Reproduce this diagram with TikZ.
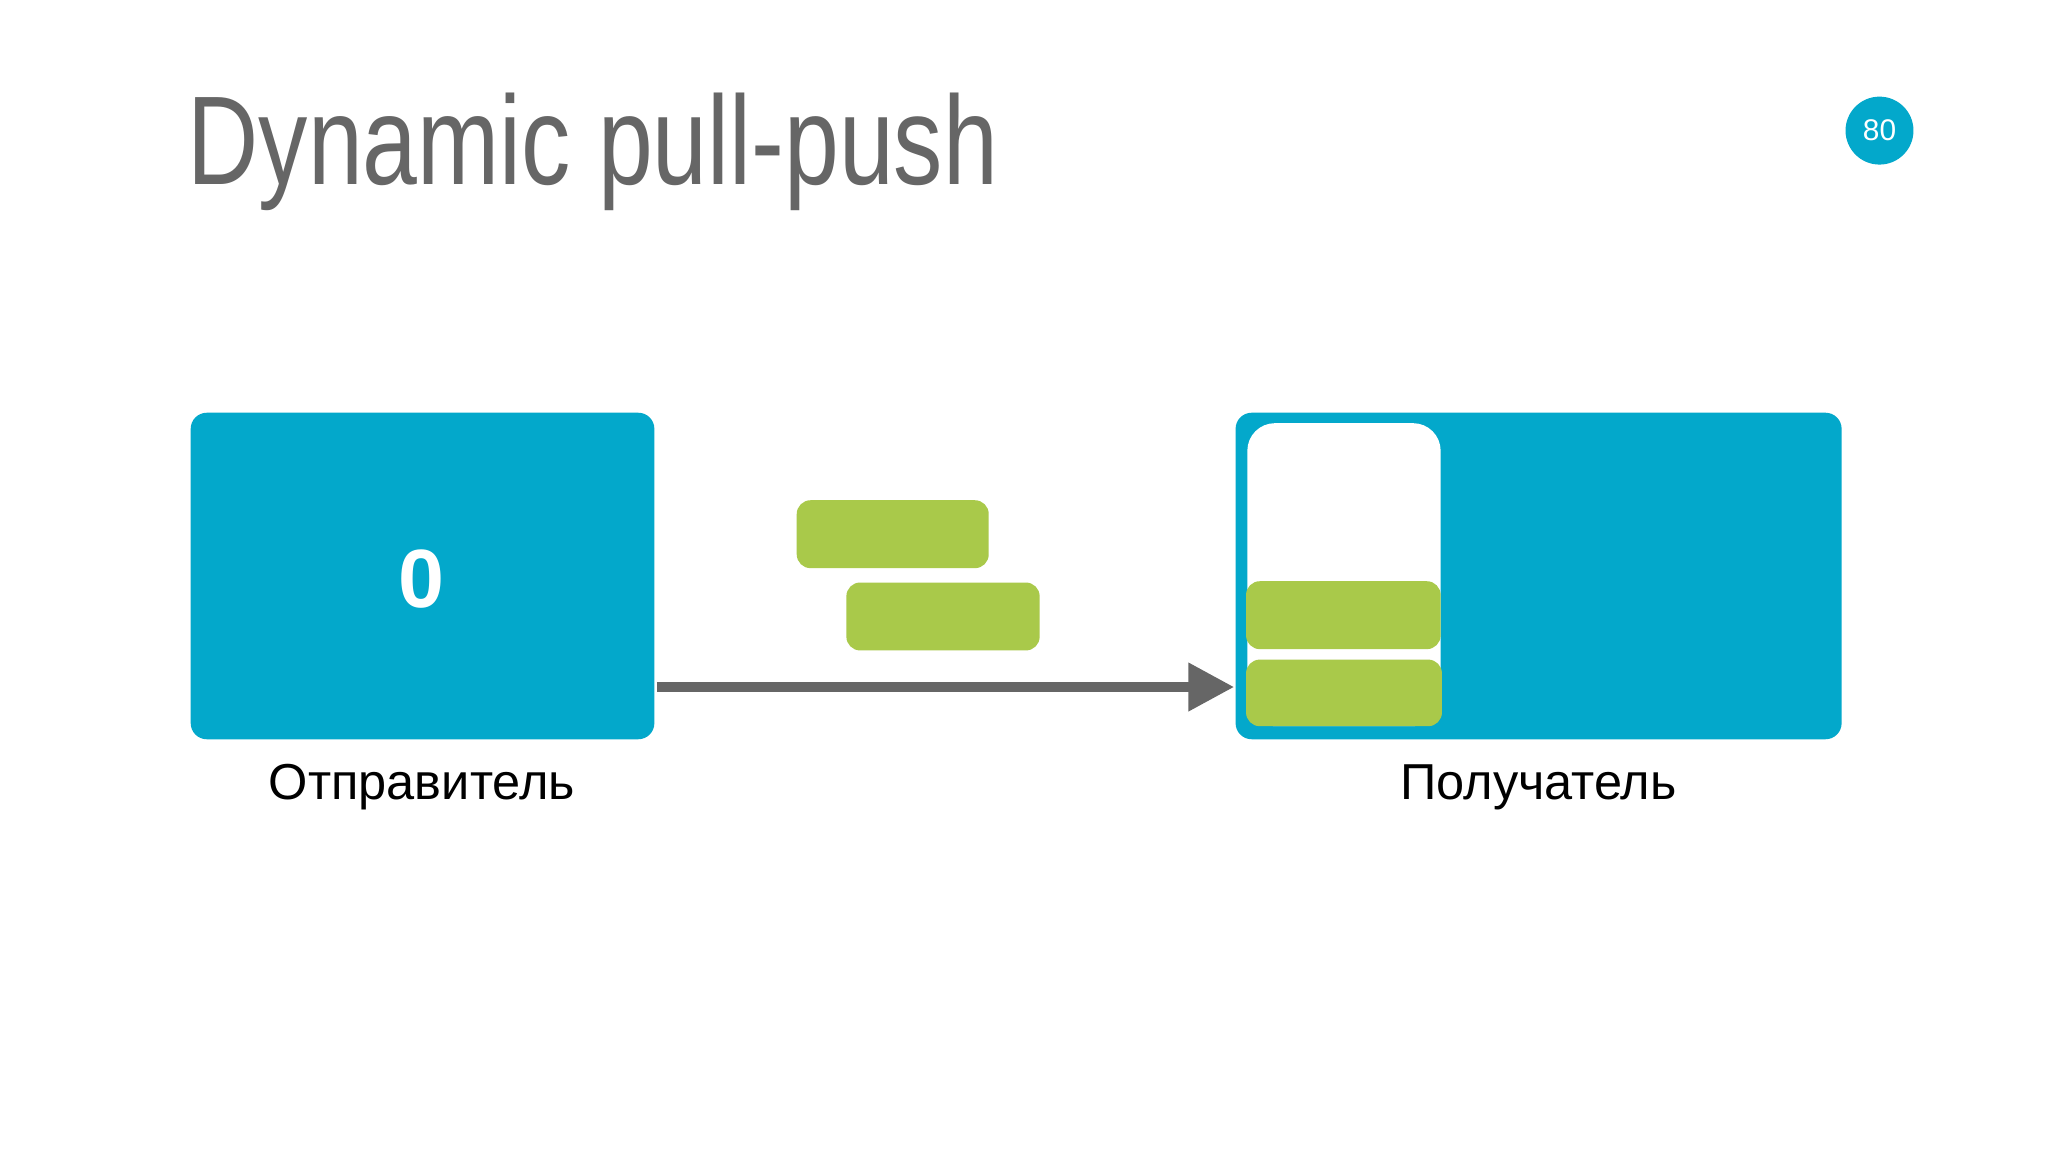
\documentclass[tikz,border=0pt]{standalone}
\usepackage{fontspec}
\setmainfont{Liberation Sans}
\newfontfamily\narrowfont[FakeStretch=0.78]{Liberation Sans}
\usetikzlibrary{arrows.meta}
\definecolor{cyanb}{HTML}{03A8CB}
\definecolor{greenb}{HTML}{A9C94A}
\definecolor{grayt}{HTML}{666666}
\tikzset{
  bigbox/.style={fill=cyanb, rounded corners=3.5pt, inner sep=0pt},
  msg/.style={fill=greenb, rounded corners=3pt},
  lbl/.style={font=\fontsize{11}{13}\selectfont, text=black},
}
\begin{document}
\begin{tikzpicture}[x=0.01cm,y=-0.01cm]
\useasboundingbox[fill=white] (0,0) rectangle (1568,882);
\node[anchor=base west, font=\narrowfont\fontsize{27.5}{32}\selectfont, text=grayt, inner sep=0pt] (title) at (143,141) {Dynamic pull-push};
\node[circle, fill=cyanb, minimum size=52*0.2845pt, inner sep=0pt, text=white, font=\fontsize{6.5}{7}\selectfont] (page) at (1439,100) {80};
\fill[bigbox] (146,316) rectangle (501,566);
\coordinate (L) at (503,526);
\node[text=white, font=\bfseries\fontsize{18}{20}\selectfont] (zero) at (323,443) {0};
\node[lbl] (snd) at (323,603) {Отправитель};
\fill[bigbox] (946,316) rectangle (1410,566);
\coordinate (R) at (945,526);
\fill[white, rounded corners=6pt] (955,324) rectangle (1103,556);
\fill[msg] (954,445) rectangle (1103,497);
\fill[msg] (954,505) rectangle (1104,556);
\fill[msg] (610,383) rectangle (757,435);
\fill[msg] (648,446) rectangle (796,498);
\node[lbl] (rcv) at (1178,603) {Получатель};
\draw[grayt, line width=2.3pt, -{Triangle[length=10pt,width=10pt]}] (L) -- (R);
\end{tikzpicture}
\end{document}
